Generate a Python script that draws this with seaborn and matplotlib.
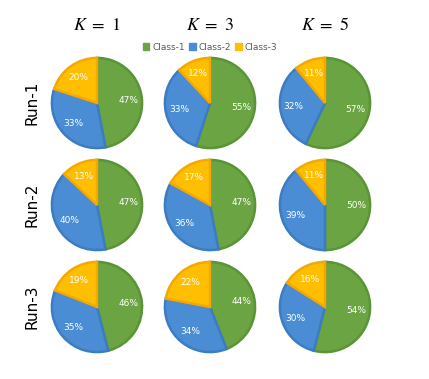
import matplotlib
matplotlib.use("Agg")
import matplotlib.pyplot as plt
import seaborn as sns

classes = ["Class-1", "Class-2", "Class-3"]
k_labels = ["$K\\ =\\ 1$", "$K\\ =\\ 3$", "$K\\ =\\ 5$"]
runs = ["Run-1", "Run-2", "Run-3"]

run1 = [[47, 33, 20], [55, 33, 12], [57, 32, 11]]
run2 = [[47, 40, 13], [47, 36, 17], [50, 39, 11]]
run3 = [[46, 35, 19], [44, 34, 22], [54, 30, 16]]
shares = [run1, run2, run3]

fills = ["#6AA443", "#4A8DD4", "#FFBE00"]
edges = ["#5A9436", "#3C7CC2", "#F5A800"]

sns.set_style("white")
plt.rcParams["font.family"] = ["DejaVu Sans"]
plt.rcParams["mathtext.fontset"] = "stix"

W, H = 429, 379
fig = plt.figure(figsize=(W / 100, H / 100), dpi=100)

cx = [97, 210, 325]
cy = [103, 205, 307]
r = 46

for i, row in enumerate(shares):
    for j, vals in enumerate(row):
        ax = fig.add_axes([(cx[j] - r) / W, 1 - (cy[i] + r) / H, 2 * r / W, 2 * r / H])
        wedges, texts = ax.pie(
            vals, colors=fills, startangle=90, counterclock=False,
            labels=[f"{v}%" for v in vals], labeldistance=0.7,
            wedgeprops=dict(linewidth=1.8),
            textprops=dict(color="white", fontsize=6.5, va="center"),
        )
        for w, ec in zip(wedges, edges):
            w.set_edgecolor(ec)
        for t in texts:
            t.set_horizontalalignment("center")
        ax.set_aspect("equal")
        ax.set_xlim(-1.02, 1.02)
        ax.set_ylim(-1.02, 1.02)
        ax.axis("off")

for j, lab in enumerate(k_labels):
    fig.text(cx[j] / W, 1 - 25 / H, lab, ha="center", va="center",
             fontsize=13, color="black")

for i, lab in enumerate(runs):
    fig.text(32 / W, 1 - cy[i] / H, lab, ha="center", va="center",
             rotation=90, fontsize=11, color="black")

handles = [plt.Rectangle((0, 0), 1, 1, color=c) for c in fills]
fig.legend(handles, classes, loc="center", bbox_to_anchor=(210 / W, 1 - 47 / H),
           ncol=3, frameon=False, fontsize=6.5, handlelength=0.7, handleheight=0.7,
           handletextpad=0.3, columnspacing=0.5, labelcolor="#595959")

fig.savefig("out.png", dpi=100)
